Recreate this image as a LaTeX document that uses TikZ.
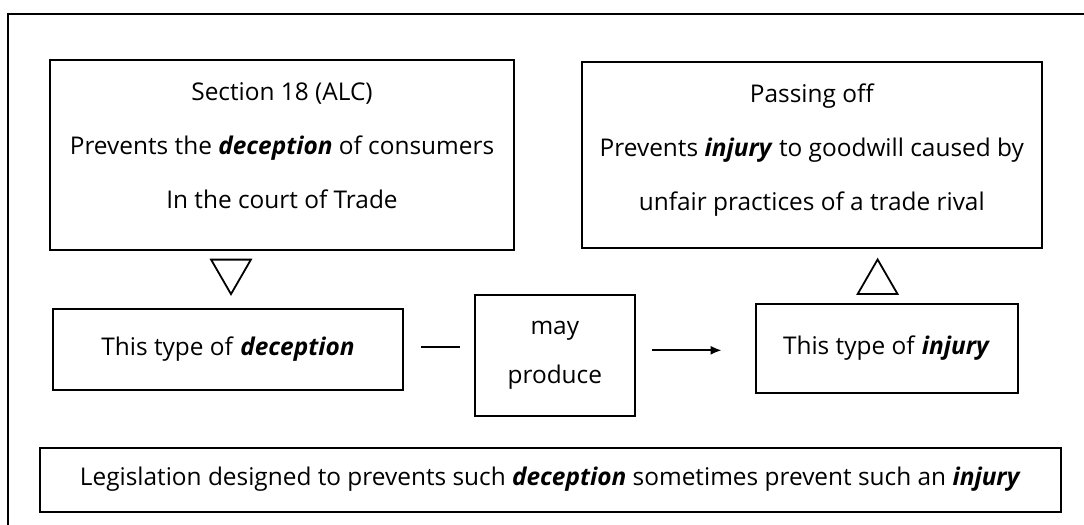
\documentclass[tikz,border=0pt]{standalone}
\usepackage{fontspec}
\setmainfont{Open Sans}
\usetikzlibrary{arrows.meta,positioning,shapes.geometric}

\newcommand{\emw}[1]{\textbf{\textit{#1}}}

\begin{document}
\begin{tikzpicture}[
  x=0.5pt,y=-0.5pt,
  box/.style={rectangle,draw,line width=0.9pt,align=center,inner sep=0pt,
              font=\fontsize{12.2}{27}\selectfont},
  tri/.style={regular polygon,regular polygon sides=3,draw,line width=0.9pt,
              minimum size=23pt,inner sep=0pt},
  arr/.style={-{Latex[length=5.5pt,width=4.5pt]},line width=1pt}
]
\useasboundingbox (0,0) rectangle (1084,525);
\draw[line width=0.9pt] (8,525)--(8,14)--(1084,14);
% top row
\node[box,minimum width=232pt,minimum height=95pt] (sec) at (282,155)
  {Section 18 (ALC)\\Prevents the \emw{deception} of consumers\\In the court of Trade\\[-17.5pt]\rule{0pt}{0pt}};
\node[box,minimum width=230pt,minimum height=93pt,right=33pt of sec] (pass)
  {Passing off\\Prevents \emw{injury} to goodwill caused by\\unfair practices of a trade rival\\[-19pt]\rule{0pt}{0pt}};
% middle row
\node[box,minimum width=175pt,minimum height=40.5pt,below right=28.5pt and 1.5pt of sec.south west] (dec)
  {This type of \emw{deception}};
\node[box,minimum width=80pt,minimum height=60.5pt,right=35pt of dec,yshift=-3pt,
      font=\fontsize{12.2}{24.5}\selectfont] (may) {may\\produce};
\node[box,minimum width=131pt,minimum height=44.5pt,right=59.5pt of may,yshift=3.5pt] (inj)
  {This type of \emw{injury}};
\node[tri,shape border rotate=180,anchor=south] (tdown) at ([xshift=1.5pt,yshift=6pt]dec.north) {};
\node[tri,anchor=south] (tup) at ([xshift=-4.5pt,yshift=4pt]inj.north) {};
\draw[line width=0.9pt] ([xshift=8.5pt,yshift=1pt]dec.east) -- ([xshift=-7pt,yshift=1pt]dec.east -| may.west);
\draw[arr] ([xshift=8pt,yshift=2.5pt]may.east) -- ([xshift=-16.5pt,yshift=2.5pt]may.east -| inj.west);
% bottom
\node[box,minimum width=510.5pt,minimum height=32pt,below=15pt of may,xshift=-2.25pt] (leg)
  {Legislation designed to prevents such \emw{deception} sometimes prevent such an \emw{injury}};
\end{tikzpicture}
\end{document}
